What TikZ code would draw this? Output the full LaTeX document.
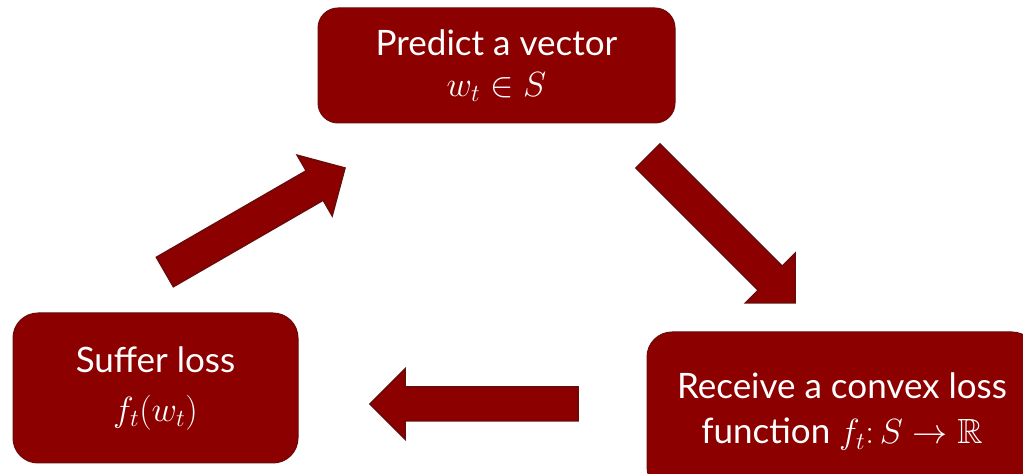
\RequirePackage{fix-cm}
\documentclass[tikz,border=0pt]{standalone}
\usepackage{amssymb}
\usepackage{fontspec}
\setmainfont{Lato}
\usetikzlibrary{shapes.arrows}

\begin{document}
\begin{tikzpicture}[x=1pt,y=1pt]

% Colori
\definecolor{boxRed}{HTML}{8C0000}
\definecolor{edgeRed}{HTML}{6A0A0A}

\tikzset{
  stepbox/.style={fill=boxRed, draw=edgeRed, line width=1pt, rounded corners=20pt,
    text=white, align=center, inner sep=0pt, font=\fontsize{35}{41}\selectfont},
  fatarrow/.style={single arrow, fill=boxRed, draw=edgeRed, line width=1.5pt,
    minimum height=208pt, single arrow head extend=18pt, inner sep=0pt, outer sep=0pt,
    text height=32.5pt, text depth=0pt, text width=0pt}
}

% Cornice
\useasboundingbox (0,0) rectangle (1023,474);
\clip (0,0) rectangle (1023,474);

% Riquadri
\node[stepbox, minimum width=357pt, minimum height=115pt] (predict) at (496.5,408.5)
  {Predict a vector\\$w_t\in S$};
\node[stepbox, minimum width=285pt, minimum height=150pt, rounded corners=25pt,
  font=\fontsize{35}{49}\selectfont] (suffer) at (155.5,86)
  {Suffer loss\\$f_t(w_t)$};
\node[stepbox, minimum width=390pt, minimum height=160pt, rounded corners=25pt,
  font=\fontsize{35}{45}\selectfont] (receive) at (842,62)
  {Receive a convex loss\\function $f_t\colon S\to\mathbb{R}$};

% Frecce
\node[fatarrow, rotate=30, anchor=tip] (arrUp) at (345,306) {};
\node[fatarrow, rotate=-45, anchor=tip] (arrDown) at (795,171) {};
\node[fatarrow, rotate=180, anchor=tip] (arrLeft) at (370,70) {};

\end{tikzpicture}
\end{document}
